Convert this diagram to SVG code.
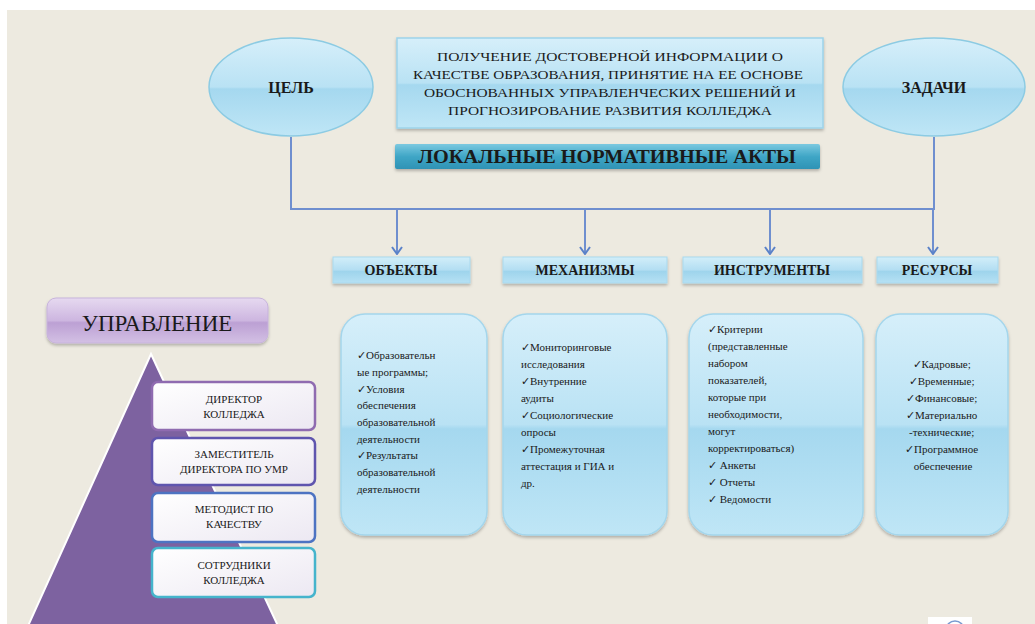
<svg xmlns="http://www.w3.org/2000/svg" width="1035" height="624" viewBox="0 0 1035 624" font-family="'Liberation Serif', 'DejaVu Serif', serif">
<defs>
  <linearGradient id="gBlue" x1="0" y1="0" x2="0" y2="1">
    <stop offset="0" stop-color="#d6effa"/>
    <stop offset="0.5" stop-color="#b9e2f4"/>
    <stop offset="0.52" stop-color="#a5d8ef"/>
    <stop offset="1" stop-color="#bfe6f6"/>
  </linearGradient>
  <linearGradient id="gHead" x1="0" y1="0" x2="0" y2="1">
    <stop offset="0" stop-color="#d2eef9"/>
    <stop offset="0.5" stop-color="#b3def2"/>
    <stop offset="0.55" stop-color="#9ed4ec"/>
    <stop offset="1" stop-color="#b6e1f4"/>
  </linearGradient>
  <linearGradient id="gActs" x1="0" y1="0" x2="0" y2="1">
    <stop offset="0" stop-color="#7cc9e0"/>
    <stop offset="0.5" stop-color="#3fa6c6"/>
    <stop offset="1" stop-color="#2f93b5"/>
  </linearGradient>
  <linearGradient id="gPurple" x1="0" y1="0" x2="0" y2="1">
    <stop offset="0" stop-color="#e6d9f0"/>
    <stop offset="0.5" stop-color="#cdb6e0"/>
    <stop offset="0.55" stop-color="#bca0d4"/>
    <stop offset="1" stop-color="#d3c0e4"/>
  </linearGradient>
  <linearGradient id="gLav" x1="0" y1="0" x2="1" y2="1">
    <stop offset="0" stop-color="#ffffff"/>
    <stop offset="1" stop-color="#ece8f2"/>
  </linearGradient>
  <filter id="sh" x="-10%" y="-10%" width="120%" height="130%">
    <feDropShadow dx="0" dy="2" stdDeviation="1.5" flood-color="#000" flood-opacity="0.25"/>
  </filter>
  <marker id="arr" viewBox="0 0 12 12" refX="11" refY="6" markerWidth="12" markerHeight="12" markerUnits="userSpaceOnUse" orient="auto">
    <path d="M4 1 L11 6 L4 11" fill="none" stroke="#5b82c8" stroke-width="2"/>
  </marker>
  <style>
    text { fill: #1a1a1a; }
    .hd { font-size: 14px; font-weight: bold; text-anchor: middle; }
    .body { font-size: 11px; }
    .top { font-size: 12.5px; text-anchor: middle; }
    .pyr { font-size: 11px; text-anchor: middle; }
    .ell { fill: url(#gBlue); stroke: #8ccbe3; stroke-width: 1.5; }
    .head { fill: url(#gHead); stroke: #a9d9ee; stroke-width: 1; filter: url(#sh); }
    .card { fill: url(#gBlue); stroke: #a4d6ec; stroke-width: 1.5; filter: url(#sh); }
    .conn { fill: none; stroke: #6f8fcf; stroke-width: 2; }
  </style>
</defs>

<rect x="0" y="0" width="1035" height="624" fill="#ffffff"/>
<rect x="7" y="10" width="1028" height="614" fill="#edeae0"/>

<g id="connectors">
  <polyline class="conn" points="291,137 291,209 934,209 934,137"/>
  <line class="conn" x1="397" y1="209" x2="397" y2="254" marker-end="url(#arr)"/>
  <line class="conn" x1="585" y1="209" x2="585" y2="254" marker-end="url(#arr)"/>
  <line class="conn" x1="770" y1="209" x2="770" y2="254" marker-end="url(#arr)"/>
  <line class="conn" x1="933" y1="209" x2="933" y2="254" marker-end="url(#arr)"/>
</g>

<g id="goal">
  <ellipse class="ell" cx="291" cy="87" rx="82" ry="49"/>
  <text x="291" y="93" font-size="16" font-weight="bold" text-anchor="middle">ЦЕЛЬ</text>
</g>

<g id="tasks">
  <ellipse class="ell" cx="934" cy="87" rx="91" ry="49"/>
  <text x="934" y="93" font-size="16" font-weight="bold" text-anchor="middle">ЗАДАЧИ</text>
</g>

<g id="goal-text">
  <rect x="397" y="38" width="426" height="90" fill="url(#gBlue)" stroke="#9dd3ea" stroke-width="1.5" filter="url(#sh)"/>
  <text class="top" x="610" y="61" textLength="346" lengthAdjust="spacingAndGlyphs">ПОЛУЧЕНИЕ  ДОСТОВЕРНОЙ ИНФОРМАЦИИ  О</text>
  <text class="top" x="608" y="79" textLength="390" lengthAdjust="spacingAndGlyphs">КАЧЕСТВЕ  ОБРАЗОВАНИЯ,  ПРИНЯТИЕ  НА ЕЕ ОСНОВЕ</text>
  <text class="top" x="610" y="97" textLength="372" lengthAdjust="spacingAndGlyphs">ОБОСНОВАННЫХ  УПРАВЛЕНЧЕСКИХ  РЕШЕНИЙ  И</text>
  <text class="top" x="610" y="115" textLength="324" lengthAdjust="spacingAndGlyphs">ПРОГНОЗИРОВАНИЕ  РАЗВИТИЯ  КОЛЛЕДЖА</text>
</g>

<g id="local-acts">
  <rect x="395" y="144" width="425" height="25" rx="2" fill="url(#gActs)" filter="url(#sh)"/>
  <text x="607" y="163" font-size="18" font-weight="bold" text-anchor="middle" textLength="378" lengthAdjust="spacingAndGlyphs">ЛОКАЛЬНЫЕ НОРМАТИВНЫЕ АКТЫ</text>
</g>

<g id="objects">
  <rect class="head" x="333" y="257" width="137" height="26"/>
  <text class="hd" x="401" y="275">ОБЪЕКТЫ</text>
  <rect class="card" x="341" y="314" width="146" height="221" rx="24"/>
  <text class="body">
    <tspan x="357" y="359">✓Образовательн</tspan>
    <tspan x="357" y="376">ые программы;</tspan>
    <tspan x="357" y="393">✓Условия</tspan>
    <tspan x="357" y="409">обеспечения</tspan>
    <tspan x="357" y="426">образовательной</tspan>
    <tspan x="357" y="443">деятельности</tspan>
    <tspan x="357" y="459">✓Результаты</tspan>
    <tspan x="357" y="476">образовательной</tspan>
    <tspan x="357" y="493">деятельности</tspan>
  </text>
</g>

<g id="mechanisms">
  <rect class="head" x="503" y="257" width="164" height="26"/>
  <text class="hd" x="585" y="275">МЕХАНИЗМЫ</text>
  <rect class="card" x="503" y="314" width="164" height="221" rx="24"/>
  <text class="body">
    <tspan x="521" y="351">✓Мониторинговые</tspan>
    <tspan x="521" y="368">исследования</tspan>
    <tspan x="521" y="385">✓Внутренние</tspan>
    <tspan x="521" y="402">аудиты</tspan>
    <tspan x="521" y="419">✓Социологические</tspan>
    <tspan x="521" y="436">опросы</tspan>
    <tspan x="521" y="453">✓Промежуточная</tspan>
    <tspan x="521" y="470">аттестация и ГИА и</tspan>
    <tspan x="521" y="487">др.</tspan>
  </text>
</g>

<g id="instruments">
  <rect class="head" x="683" y="257" width="179" height="26"/>
  <text class="hd" x="772" y="275">ИНСТРУМЕНТЫ</text>
  <rect class="card" x="689" y="314" width="174" height="221" rx="24"/>
  <text class="body">
    <tspan x="708" y="333">✓Критерии</tspan>
    <tspan x="708" y="350">(представленные</tspan>
    <tspan x="708" y="367">набором</tspan>
    <tspan x="708" y="384">показателей,</tspan>
    <tspan x="708" y="401">которые при</tspan>
    <tspan x="708" y="418">необходимости,</tspan>
    <tspan x="708" y="435">могут</tspan>
    <tspan x="708" y="452">корректироваться)</tspan>
    <tspan x="708" y="469">✓ Анкеты</tspan>
    <tspan x="708" y="486">✓ Отчеты</tspan>
    <tspan x="708" y="503">✓ Ведомости</tspan>
  </text>
</g>

<g id="resources">
  <rect class="head" x="877" y="257" width="121" height="26"/>
  <text class="hd" x="937" y="275">РЕСУРСЫ</text>
  <rect class="card" x="876" y="314" width="132" height="221" rx="24"/>
  <text class="body" text-anchor="middle">
    <tspan x="943" y="368">✓Кадровые;</tspan>
    <tspan x="943" y="385">✓Временные;</tspan>
    <tspan x="943" y="402">✓Финансовые;</tspan>
    <tspan x="943" y="419">✓Материально</tspan>
    <tspan x="943" y="436">-технические;</tspan>
    <tspan x="943" y="453">✓Программное</tspan>
    <tspan x="943" y="470">обеспечение</tspan>
  </text>
</g>

<g id="management">
  <rect x="47" y="298" width="221" height="45" rx="9" fill="url(#gPurple)" stroke="#c7b3dc" stroke-width="1" filter="url(#sh)"/>
  <text x="157" y="331" font-size="23" text-anchor="middle">УПРАВЛЕНИЕ</text>
</g>

<g id="pyramid">
  <polygon points="151,354 28,626 278,626" fill="#7d62a0" stroke="#ffffff" stroke-width="2"/>
</g>

<g id="director">
  <rect x="152" y="382" width="163" height="48" rx="6" fill="url(#gLav)" stroke="#8f6bb0" stroke-width="2.5"/>
  <text class="pyr" x="234" y="403">ДИРЕКТОР</text>
  <text class="pyr" x="234" y="418">КОЛЛЕДЖА</text>
</g>

<g id="deputy">
  <rect x="152" y="438" width="163" height="47" rx="6" fill="url(#gLav)" stroke="#5f55ae" stroke-width="2.5"/>
  <text class="pyr" x="234" y="458">ЗАМЕСТИТЕЛЬ</text>
  <text class="pyr" x="234" y="473">ДИРЕКТОРА  ПО УМР</text>
</g>

<g id="methodist">
  <rect x="152" y="493" width="163" height="49" rx="6" fill="url(#gLav)" stroke="#4d73c2" stroke-width="2.5"/>
  <text class="pyr" x="234" y="513">МЕТОДИСТ  ПО</text>
  <text class="pyr" x="234" y="528">КАЧЕСТВУ</text>
</g>

<g id="staff">
  <rect x="152" y="548" width="163" height="49" rx="6" fill="url(#gLav)" stroke="#45b4cc" stroke-width="2.5"/>
  <text class="pyr" x="234" y="569">СОТРУДНИКИ</text>
  <text class="pyr" x="234" y="584">КОЛЛЕДЖА</text>
</g>

<g id="corner-icon">
  <rect x="928" y="617" width="44" height="7" fill="#ffffff"/>
  <circle cx="955" cy="630" r="9" fill="none" stroke="#7a9bd0" stroke-width="1.5"/>
</g>
</svg>
